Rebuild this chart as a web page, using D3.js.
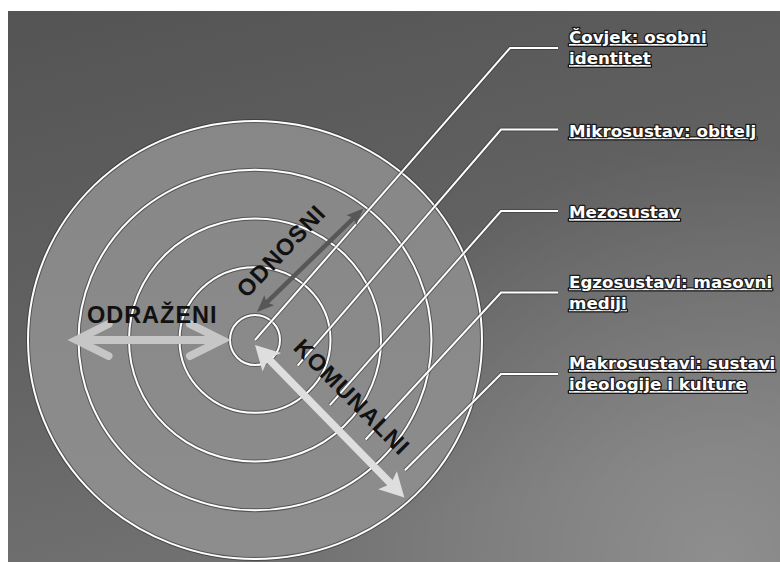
<!DOCTYPE html>
<html>
<head>
<meta charset="utf-8">
<script src="https://cdn.jsdelivr.net/npm/d3@7"></script>
<style>
  html, body { margin: 0; padding: 0; background: #fff; }
  svg { display: block; }
</style>
</head>
<body>
<svg id="chart" width="780" height="562"></svg>
<script>
// ---- data ----
const levels = ["Čovjek", "Mikrosustav", "Mezosustav", "Egzosustavi", "Makrosustavi"];
const ringIndex = [0, 1, 2, 3, 4];
const labelLines = [
  ["Čovjek: osobni", "identitet"],
  ["Mikrosustav: obitelj"],
  ["Mezosustav"],
  ["Egzosustavi: masovni", "mediji"],
  ["Makrosustavi: sustavi", "ideologije i kulture"]
];
const arrowNames = ["ODRAŽENI", "ODNOSNI", "KOMUNALNI"];

// ---- layout ----
const svg = d3.select("#chart");
const W = 780, H = 562;
const frame = {x: 8, y: 11};
const cx = 255, cy = 340, yAspect = 0.965;

const rScale = d3.scaleLinear().domain([0, 4]).range([25, 227]);
const yLabel = d3.scalePoint().domain(levels).range([48, 374]);

const defs = svg.append("defs");
const bg = defs.append("linearGradient").attr("id", "bg")
  .attr("x1", 0).attr("y1", 0).attr("x2", 0.35).attr("y2", 1);
bg.append("stop").attr("offset", 0).attr("stop-color", "#545454");
bg.append("stop").attr("offset", 0.55).attr("stop-color", "#626262");
bg.append("stop").attr("offset", 1).attr("stop-color", "#727272");
const hl = defs.append("radialGradient").attr("id", "hl")
  .attr("gradientUnits", "userSpaceOnUse")
  .attr("cx", 720).attr("cy", 560).attr("r", 420);
hl.append("stop").attr("offset", 0).attr("stop-color", "#fff").attr("stop-opacity", 0.2);
hl.append("stop").attr("offset", 1).attr("stop-color", "#fff").attr("stop-opacity", 0);
const disc = defs.append("linearGradient").attr("id", "disc")
  .attr("x1", 0).attr("y1", 0).attr("x2", 0).attr("y2", 1);
disc.append("stop").attr("offset", 0).attr("stop-color", "#878787");
disc.append("stop").attr("offset", 1).attr("stop-color", "#8d8d8d");

svg.append("rect").attr("width", W).attr("height", H).attr("fill", "#fff");
svg.append("rect").attr("x", frame.x).attr("y", frame.y)
  .attr("width", W - frame.x).attr("height", H - frame.y).attr("fill", "url(#bg)");
svg.append("rect").attr("x", frame.x).attr("y", frame.y)
  .attr("width", W - frame.x).attr("height", H - frame.y).attr("fill", "url(#hl)");

const plot = svg.append("g");
plot.append("clipPath").attr("id", "clip").append("rect")
  .attr("x", frame.x).attr("y", frame.y).attr("width", W - frame.x).attr("height", H - frame.y);
const g = plot.append("g").attr("clip-path", "url(#clip)");

// disc
g.append("ellipse").attr("cx", cx).attr("cy", cy)
  .attr("rx", rScale(4)).attr("ry", rScale(4) * yAspect).attr("fill", "url(#disc)");

// rings: dark edge + white line
const rings = g.selectAll("g.ring").data(ringIndex).join("g").attr("class", "ring");
rings.append("ellipse").attr("cx", cx).attr("cy", cy)
  .attr("rx", d => rScale(d)).attr("ry", d => d === 0 ? rScale(d) : rScale(d) * yAspect)
  .attr("fill", "none").attr("stroke", "#2a2a2a").attr("stroke-opacity", 0.55).attr("stroke-width", 4);
rings.append("ellipse").attr("cx", cx).attr("cy", cy)
  .attr("rx", d => rScale(d)).attr("ry", d => d === 0 ? rScale(d) : rScale(d) * yAspect)
  .attr("fill", "none").attr("stroke", "#fff").attr("stroke-width", 2);

// leader lines from the middle of each band
const startAngle = [0, 32, 42, 43, 42].map(a => a * Math.PI / 180);
function leaderPts(i) {
  const r = i === 0 ? 0 : (rScale(i - 1) + rScale(i)) / 2;
  const sx = cx + r * Math.cos(startAngle[i]);
  const sy = cy + r * Math.sin(startAngle[i]) * yAspect;
  const y = yLabel(levels[i]);
  const kx = i === 0 ? 510 : 501;
  return [[sx, sy], [kx, y], [558, y]];
}
const line = d3.line();
const leaders = g.selectAll("g.leader").data(ringIndex).join("g").attr("class", "leader");
leaders.append("path").attr("d", d => line(leaderPts(d))).attr("fill", "none")
  .attr("stroke", "#2a2a2a").attr("stroke-opacity", 0.45).attr("stroke-width", 4);
leaders.append("path").attr("d", d => line(leaderPts(d))).attr("fill", "none")
  .attr("stroke", "#fff").attr("stroke-width", 2);

// labels
const labels = svg.selectAll("text.lab").data(ringIndex).join("text").attr("class", "lab")
  .attr("x", 569)
  .attr("font-family", "'DejaVu Sans', sans-serif").attr("font-weight", 700).attr("font-size", 16.7)
  .attr("fill", "#fff").attr("stroke", "#1a1a1a").attr("stroke-width", 2.6)
  .attr("paint-order", "stroke").attr("stroke-linejoin", "round")
  .style("text-decoration", "underline");
labels.each(function(d) {
  const y = yLabel(levels[d]);
  const ls = labelLines[d];
  const t = d3.select(this);
  ls.forEach((s, k) => {
    t.append("tspan").attr("x", 569)
      .attr("y", ls.length === 1 ? y + 7 : y - 5 + k * 21).text(s);
  });
});

// ---- arrows ----
function polar(r, deg, asp) {
  const a = deg * Math.PI / 180;
  return [cx + r * Math.cos(a), cy + r * Math.sin(a) * (asp || 1)];
}
function triHead(tip, from, len, half) {
  const dx = tip[0] - from[0], dy = tip[1] - from[1];
  const L = Math.hypot(dx, dy), ux = dx / L, uy = dy / L;
  const bx = tip[0] - ux * len, by = tip[1] - uy * len;
  return [tip, [bx - uy * half, by + ux * half], [tip[0] - ux * len * 0.8, tip[1] - uy * len * 0.8], [bx + uy * half, by - ux * half]];
}
function chevron(tip, from, len, half) {
  const dx = tip[0] - from[0], dy = tip[1] - from[1];
  const L = Math.hypot(dx, dy), ux = dx / L, uy = dy / L;
  const bx = tip[0] - ux * len, by = tip[1] - uy * len;
  return [[bx - uy * half, by + ux * half], tip, [bx + uy * half, by - ux * half]];
}
function shorten(a, b, d) {
  const dx = b[0] - a[0], dy = b[1] - a[1], L = Math.hypot(dx, dy);
  return [a[0] + dx / L * d, a[1] + dy / L * d];
}
const ag = svg.append("g");

// ODRAŽENI: horizontal, light gray, chevron heads
{
  const a = polar(rScale(3) + 2, 180), b = polar(rScale(0) + 8, 180);
  const col = "#c6c6c6";
  ag.append("path").attr("d", line([a, b])).attr("stroke", col).attr("stroke-width", 8).attr("fill", "none");
  [[a, b], [b, a]].forEach(([t, f]) => {
    ag.append("path").attr("d", line(chevron(t, f, 32, 16))).attr("fill", "none")
      .attr("stroke", col).attr("stroke-width", 8).attr("stroke-linecap", "round").attr("stroke-linejoin", "miter");
  });
  ag.append("text").attr("x", (a[0] + b[0]) / 2 + 3).attr("y", a[1] - 17)
    .attr("text-anchor", "middle").attr("font-family", "'Liberation Sans', Arial, sans-serif")
    .attr("font-weight", 700).attr("font-size", 23.5).attr("letter-spacing", 1)
    .attr("fill", "#111").text(arrowNames[0]);
}
// ODNOSNI: dark gray, up-right
{
  const a = [cx + 2, cy - 28], b = polar(rScale(3) - 6, -50.5);
  const col = "#575757";
  ag.append("path").attr("d", line([shorten(a, b, 8), shorten(b, a, 8)])).attr("stroke", col).attr("stroke-width", 4.5).attr("fill", "none");
  [[a, b], [b, a]].forEach(([t, f]) => {
    ag.append("path").attr("d", line(triHead(t, f, 17, 7)) + "Z").attr("fill", col);
  });
  ag.append("text").attr("transform", "translate(281,251) rotate(-46.5)")
    .attr("text-anchor", "middle").attr("dy", "0.35em")
    .attr("font-family", "'Liberation Sans', Arial, sans-serif")
    .attr("font-weight", 700).attr("font-size", 23.5).attr("letter-spacing", 1)
    .attr("fill", "#111").text(arrowNames[1]);
}
// KOMUNALNI: light, down-right
{
  const a = [cx, cy + 5], b = polar(rScale(4) - 10, 46.5);
  const col = "#dedede";
  ag.append("path").attr("d", line([shorten(a, b, 12), shorten(b, a, 12)])).attr("stroke", col).attr("stroke-width", 7.5).attr("fill", "none");
  [[a, b], [b, a]].forEach(([t, f]) => {
    ag.append("path").attr("d", line(triHead(t, f, 24, 13)) + "Z").attr("fill", col);
  });
  ag.append("text").attr("transform", "translate(352,397) rotate(45)")
    .attr("text-anchor", "middle").attr("dy", "0.35em")
    .attr("font-family", "'Liberation Sans', Arial, sans-serif")
    .attr("font-weight", 700).attr("font-size", 23.5).attr("letter-spacing", 1)
    .attr("fill", "#111").text(arrowNames[2]);
}
</script>
</body>
</html>
